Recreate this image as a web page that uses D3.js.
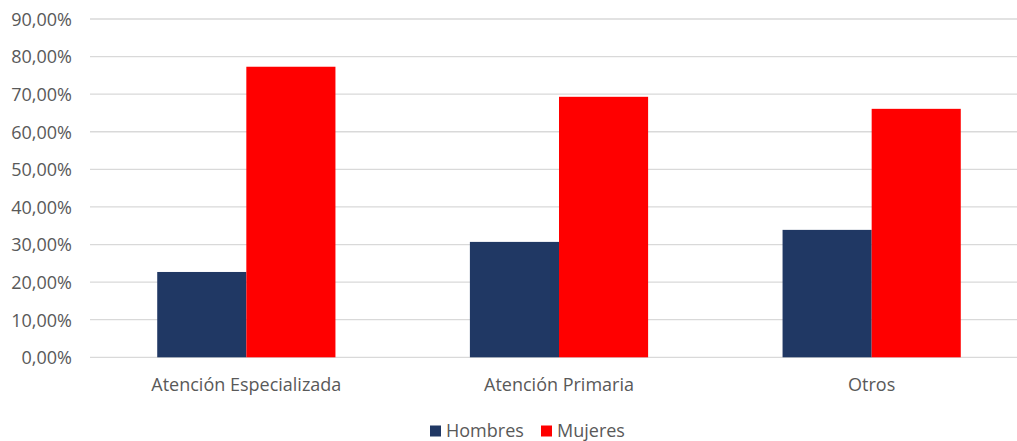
<!DOCTYPE html>
<html><head><meta charset="utf-8">
<script src="https://cdn.jsdelivr.net/npm/d3@7"></script>
<style>
html,body{margin:0;padding:0;background:#fff;overflow:hidden;}
text{font-family:"Open Sans","Noto Sans",sans-serif;fill:#595959;}
</style></head>
<body><svg id="c" width="1017" height="441"></svg>
<script>
const categories = ["Atención Especializada", "Atención Primaria", "Otros"];
const seriesNames = ["Hombres", "Mujeres"];
const hombres = [0.227, 0.307, 0.339];
const mujeres = [0.773, 0.693, 0.661];
const yTicks = [0, 0.1, 0.2, 0.3, 0.4, 0.5, 0.6, 0.7, 0.8, 0.9];
const colors = ["#203864", "#ff0000"];

const svg = d3.select("#c");
const mLeft = 90, mRight = 1028, mTop = 19, mBottom = 357.3;
const x = d3.scaleBand().domain(categories).range([mLeft, mRight]).paddingInner(0.43).paddingOuter(0.215);
const x1 = d3.scaleBand().domain(seriesNames).range([0, x.bandwidth()]);
const y = d3.scaleLinear().domain([0, 0.9]).range([mBottom, mTop]);
const fmt = v => d3.format(".2f")(v * 100).replace(".", ",") + "%";
const FF = "'Open Sans','Noto Sans',sans-serif";

svg.append("g").selectAll("line").data(yTicks).join("line")
  .attr("x1", mLeft).attr("x2", 1017)
  .attr("y1", d => y(d)).attr("y2", d => y(d))
  .attr("stroke", "#d9d9d9").attr("stroke-width", 1.3);

const yAxis = d3.axisLeft(y).tickValues(yTicks).tickFormat(fmt).tickSize(0).tickPadding(0);
const ya = svg.append("g").attr("transform", "translate(72,0)").call(yAxis);
ya.select(".domain").remove();
ya.selectAll("text").style("font-size", "18px").attr("fill", "#595959").attr("dy", "0.35em").style("font-family", FF);

const data = categories.map((c, i) => ({c, vals: [hombres[i], mujeres[i]]}));
const g = svg.append("g").selectAll("g").data(data).join("g")
  .attr("transform", d => `translate(${x(d.c)},0)`);
g.selectAll("rect").data(d => d.vals.map((v, j) => ({s: seriesNames[j], v, j}))).join("rect")
  .attr("x", d => x1(d.s)).attr("width", x1.bandwidth())
  .attr("y", d => y(d.v)).attr("height", d => mBottom - y(d.v))
  .attr("fill", d => colors[d.j]);

const xAxis = d3.axisBottom(x).tickSize(0).tickPadding(0);
const xa = svg.append("g").attr("transform", "translate(0,385)").call(xAxis);
xa.select(".domain").remove();
xa.selectAll("text").style("font-size", "18px").attr("fill", "#595959").attr("dy", "0.35em").style("font-family", FF);

const legX = [430, 541];
const lg = svg.append("g").selectAll("g").data(seriesNames).join("g")
  .attr("transform", (d, i) => `translate(${legX[i]},425.5)`);
lg.append("rect").attr("width", 11).attr("height", 11).attr("fill", (d, i) => colors[i]);
lg.append("text").attr("x", 16).attr("y", 11).style("font-size", "18px").text(d => d);
</script></body></html>
